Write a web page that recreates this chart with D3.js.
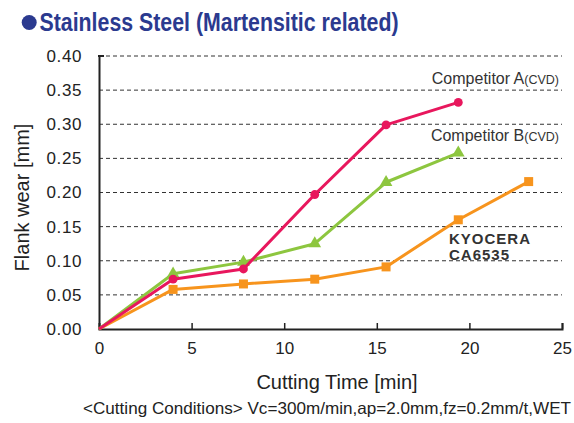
<!DOCTYPE html>
<html>
<head>
<meta charset="utf-8">
<script src="https://cdn.jsdelivr.net/npm/d3@7/dist/d3.min.js"></script>
<style>
  html, body { margin: 0; padding: 0; background: #fff; }
  svg { display: block; font-family: "Liberation Sans", Arial, sans-serif; }
</style>
</head>
<body>
<svg id="chart" width="574" height="423"></svg>
<script>
// Flank wear vs cutting time, martensitic stainless steel
const competitorA = [[0, 0], [4.0, 0.073], [7.8, 0.088], [11.65, 0.197], [15.5, 0.299], [19.4, 0.332]];
const competitorB = [[0, 0], [4.0, 0.081], [7.8, 0.098], [11.65, 0.125], [15.5, 0.215], [19.4, 0.258]];
const kyocera = [[0, 0], [4.0, 0.058], [7.8, 0.066], [11.65, 0.073], [15.5, 0.091], [19.4, 0.160], [23.2, 0.216]];
const xTicks = [0, 5, 10, 15, 20, 25];
const yTicks = [0, 0.05, 0.10, 0.15, 0.20, 0.25, 0.30, 0.35, 0.40];

const svg = d3.select("#chart");
const x = d3.scaleLinear().domain([0, 25]).range([99, 562]);
const y = d3.scaleLinear().domain([0, 0.40]).range([329, 56]);

// title with bullet
svg.append("circle").attr("cx", 29.2).attr("cy", 22.5).attr("r", 7.5).attr("fill", "#2b3a8f");
svg.append("text").attr("x", 39.5).attr("y", 31)
  .attr("font-size", 25).attr("font-weight", "bold").attr("fill", "#2b3a8f")
  .attr("textLength", 359).attr("lengthAdjust", "spacingAndGlyphs")
  .text("Stainless Steel (Martensitic related)");

// dashed gridlines
svg.append("g").selectAll("line").data(yTicks.filter(d => d > 0)).join("line")
  .attr("x1", x(0)).attr("x2", x(25))
  .attr("y1", d => y(d)).attr("y2", d => y(d))
  .attr("stroke", "#333").attr("stroke-width", 1).attr("stroke-dasharray", "4,3");

// y axis
const yAxis = svg.append("g").attr("transform", `translate(${x(0)},0)`)
  .call(d3.axisLeft(y).tickValues(yTicks).tickFormat(d3.format(".2f")).tickSize(0).tickPadding(17));
yAxis.select(".domain").attr("stroke", "#222").attr("stroke-width", 2);
yAxis.selectAll("text").attr("font-size", 17).attr("fill", "#222")
  .attr("font-family", "Liberation Sans, Arial, sans-serif").attr("letter-spacing", "0.6px");
svg.append("line").attr("x1", x(0) - 1).attr("x2", x(0) + 5).attr("y1", y(0.40)).attr("y2", y(0.40))
  .attr("stroke", "#222").attr("stroke-width", 2);

// x axis with inward ticks
const xAxis = svg.append("g").attr("transform", `translate(0,${y(0)})`)
  .call(d3.axisTop(x).tickValues(xTicks).tickSize(6).tickSizeOuter(6).tickFormat(d => d));
xAxis.select(".domain").attr("stroke", "#222").attr("stroke-width", 2);
xAxis.selectAll(".tick line").attr("stroke", "#222").attr("stroke-width", 1.5)
  .attr("display", d => d === 0 ? "none" : null);
xAxis.selectAll("text").attr("font-size", 17).attr("fill", "#222")
  .attr("font-family", "Liberation Sans, Arial, sans-serif")
  .attr("y", 25).attr("dy", 0);

// axis titles
svg.append("text").attr("transform", `translate(29,${197.5}) rotate(-90)`)
  .attr("text-anchor", "middle").attr("font-size", 20).attr("fill", "#222").text("Flank wear [mm]");
svg.append("text").attr("x", 337).attr("y", 389)
  .attr("text-anchor", "middle").attr("font-size", 20).attr("fill", "#222").text("Cutting Time [min]");
svg.append("text").attr("x", 327).attr("y", 414)
  .attr("text-anchor", "middle").attr("font-size", 16.5).attr("fill", "#222")
  .attr("textLength", 488).attr("lengthAdjust", "spacingAndGlyphs")
  .text("<Cutting Conditions> Vc=300m/min,ap=2.0mm,fz=0.2mm/t,WET");

const line = d3.line().x(d => x(d[0])).y(d => y(d[1]));

function drawSeries(data, color, shape, size) {
  svg.append("path").datum(data).attr("d", line)
    .attr("fill", "none").attr("stroke", color).attr("stroke-width", 3).attr("stroke-linejoin", "round");
  const sym = d3.symbol().type(shape).size(size);
  svg.append("g").selectAll("path").data(data.slice(1)).join("path")
    .attr("transform", d => `translate(${x(d[0])},${y(d[1])})`)
    .attr("d", sym).attr("fill", color);
}

drawSeries(kyocera, "#f7941d", d3.symbolSquare, 81);
drawSeries(competitorB, "#8dc63f", d3.symbolTriangle, 70);
drawSeries(competitorA, "#e8175d", d3.symbolCircle, 62);

// series labels
function compLabel(ty, main) {
  const t = svg.append("text").attr("x", 559).attr("y", ty).attr("text-anchor", "end")
    .attr("fill", "#333").attr("font-size", 16);
  t.append("tspan").text(main);
  t.append("tspan").attr("font-size", 12.5).text("(CVD)");
}
compLabel(84, "Competitor A");
compLabel(141, "Competitor B");

svg.append("text").attr("x", 449).attr("y", 243.5).attr("font-size", 15).attr("font-weight", "bold")
  .attr("letter-spacing", "1px").attr("fill", "#333").text("KYOCERA");
svg.append("text").attr("x", 449).attr("y", 259.5).attr("font-size", 15).attr("font-weight", "bold")
  .attr("letter-spacing", "1px").attr("fill", "#333").text("CA6535");
</script>
</body>
</html>
